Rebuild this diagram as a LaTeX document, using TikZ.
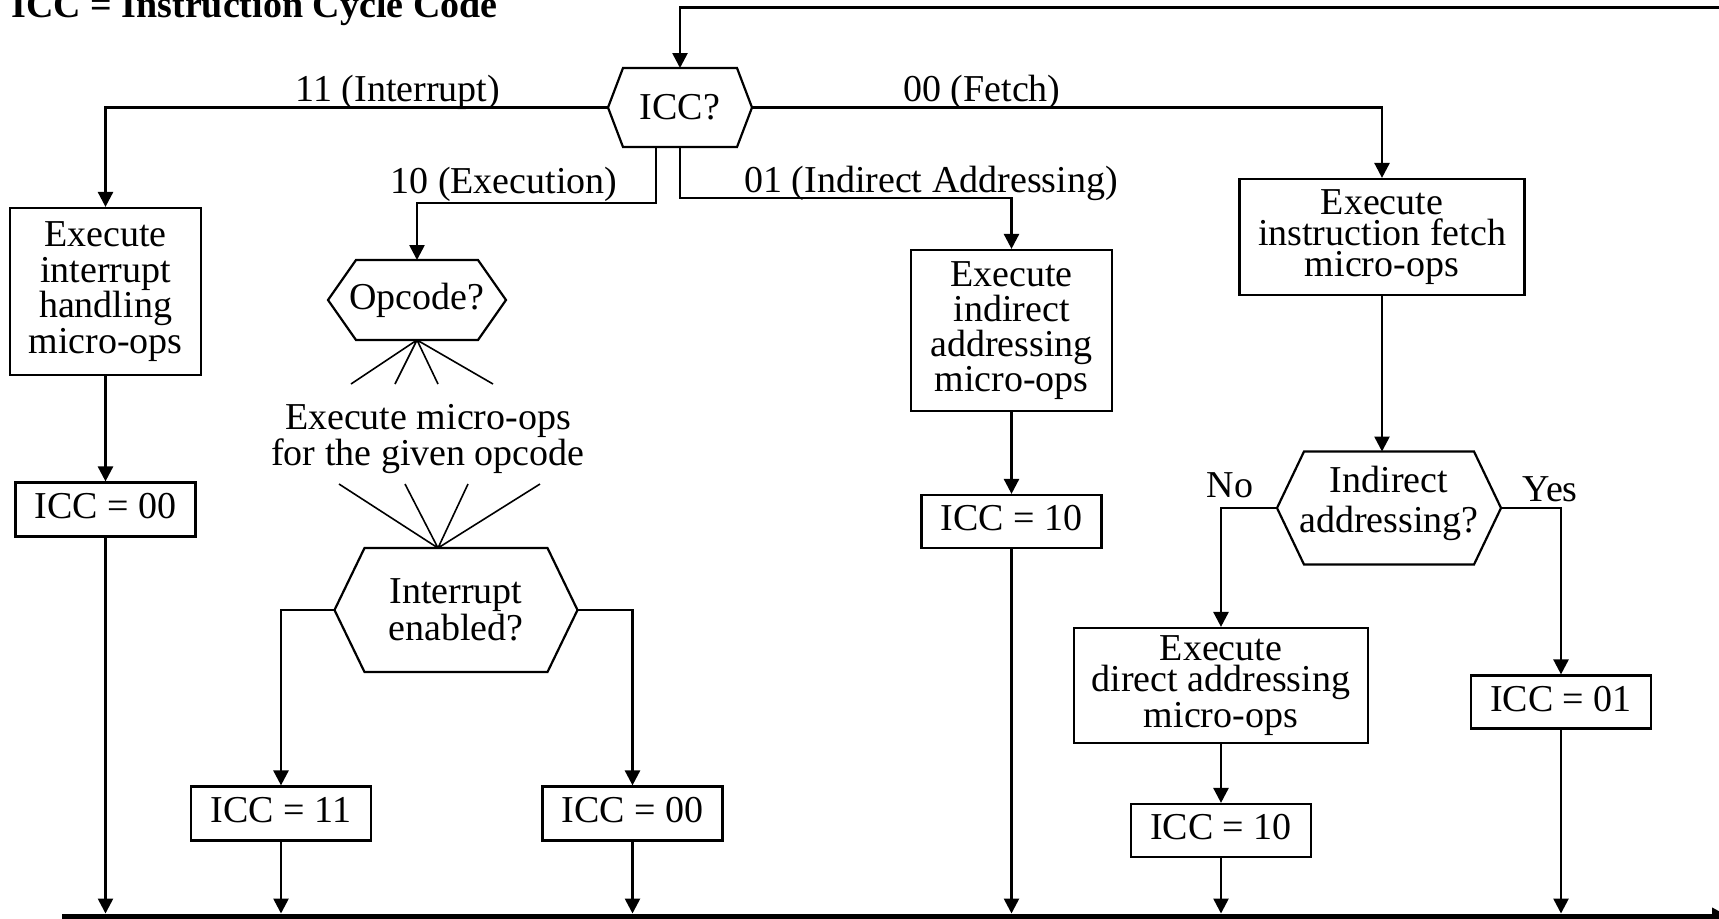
\documentclass[tikz,border=0pt]{standalone}
\usepackage{fontspec}
\setmainfont{Liberation Serif}
\usetikzlibrary{arrows.meta}

% decision hexagon: [text options]{name}{cx}{cy}{half top edge}{tip run}{half height}{text}
\newcommand\hexnode[8][]{%
  \node[hextext,#1] (#2) at (#3,#4) {#8};
  \draw[hexline] (#3-#5-#6,#4) coordinate (#2-w)
    -- (#3-#5,#4-#7) -- (#3+#5,#4-#7) -- (#3+#5+#6,#4) coordinate (#2-e)
    -- (#3+#5,#4+#7) -- (#3-#5,#4+#7) -- cycle;
  \coordinate (#2-n) at (#3,#4-#7);
  \coordinate (#2-s) at (#3,#4+#7);
}

\begin{document}
\begin{tikzpicture}[x=0.5pt, y=-0.5pt,
  lead/.style={font=\fontsize{19}{#1}\selectfont},
  lead/.default=22pt,
  box/.style={draw, line width=1.1pt, align=center, inner sep=0pt},
  iccbox/.style={box, lead, minimum width=90pt, minimum height=27pt, text depth=3.5pt},
  hextext/.style={align=center, inner sep=0pt, lead},
  hexline/.style={line width=1.1pt, line join=miter},
  lbl/.style={inner sep=0pt, lead},
  conn/.style={line width=1.3pt, -{Triangle[length=7.5pt,width=7.5pt]}},
  fan/.style={line width=0.8pt},
  bar/.style={line width=2.5pt, -{Triangle[length=8pt,width=8pt]}}
]
\clip (0,0) rectangle (1719,918);

% title
\node[lbl, anchor=base west, font=\fontsize{19}{22}\selectfont\bfseries] (title) at (11,17.5) {ICC = Instruction Cycle Code};

% decisions
\hexnode{icc}{680}{107.5}{57}{15}{39.5}{ICC?}
\hexnode{op}{417}{300}{61}{28}{40}{Opcode?}
\hexnode[lead=18.5pt]{ie}{456}{610}{91.5}{30}{62}{Interrupt\\enabled?}
\hexnode[lead=20pt, yshift=2.5pt]{ia}{1389}{508}{85}{27}{56.5}{Indirect\\addressing?}

% action boxes
\node[box, lead=17.7pt, minimum width=95.5pt, minimum height=83.5pt] (intr) at (105.5,291.5) {Execute\\interrupt\\handling\\micro-ops};
\node[box, lead=17.5pt, minimum width=100.5pt, minimum height=80.5pt] (indb) at (1011.5,330.5) {Execute\\indirect\\addressing\\micro-ops};
\node[box, lead=15.4pt, minimum width=142.5pt, minimum height=58pt] (fetchb) at (1382,237) {Execute\\instruction fetch\\micro-ops};
\node[box, lead=15.5pt, minimum width=147pt, minimum height=57.5pt] (direct) at (1221,685.5) {Execute\\direct addressing\\micro-ops};
\node[lbl, align=center, lead=17pt] (exops) at (428,439) {Execute micro-ops\\for the given opcode};

% ICC assignments
\node[iccbox] (c1) at (105.5,509.5) {ICC = 00};
\node[iccbox] (c2) at (281,813.5) {ICC = 11};
\node[iccbox] (c3) at (632.5,813.5) {ICC = 00};
\node[iccbox, minimum height=26.5pt] (c4) at (1011.5,521.5) {ICC = 10};
\node[iccbox, minimum height=26.5pt] (c5) at (1221,830.5) {ICC = 10};
\node[iccbox, minimum height=26.5pt] (c6) at (1561,702) {ICC = 01};

% branch labels
\node[lbl, anchor=base] (l11) at (398,101) {11 (Interrupt)};
\node[lbl, anchor=base] (l00) at (982,101) {00 (Fetch)};
\node[lbl, anchor=base] (l10) at (504,193) {10 (Execution)};
\node[lbl, anchor=base] (l01) at (931,192) {01 (Indirect Addressing)};
\node[lbl, anchor=base] (lno) at (1230,497) {No};
\node[lbl, anchor=base] (lyes) at (1550,501) {Yes};

% loop ends and bus
\coordinate (loopin) at (1730,7.7);
\coordinate (barW) at (62,916);
\coordinate (loopout) at (1728,916);
\coordinate (bartop) at (62,913.5);

% top-level dispatch
\draw[conn] (loopin) -| (icc-n);
\draw[conn] (icc-w) -| (intr.north);
\draw[conn] (icc-e) -| (fetchb.north);
\draw[conn] ([xshift=-12pt]icc-s) -- ++(0,56) -| (op-n);
\draw[conn] (icc-s) -- ++(0,51) -| (indb.north);

% opcode fan-out / fan-in
\draw[fan] (op-s) -- ++(-66,44) (op-s) -- ++(-22,44) (op-s) -- ++(21,44) (op-s) -- ++(76,44);
\draw[fan] ([xshift=-9pt]ie-n) -- ++(-99,-64) ([xshift=-9pt]ie-n) -- ++(-33,-64)
           ([xshift=-9pt]ie-n) -- ++(30,-64) ([xshift=-9pt]ie-n) -- ++(102,-64);

% interrupt column
\draw[conn] (intr.south) -- (c1.north);
\draw[conn] (c1.south) -- (c1.south |- bartop);

% execute column
\draw[conn] (ie-w) -| (c2.north);
\draw[conn] (ie-e) -| (c3.north);
\draw[conn] (c2.south) -- (c2.south |- bartop);
\draw[conn] (c3.south) -- (c3.south |- bartop);

% indirect column
\draw[conn] (indb.south) -- (c4.north);
\draw[conn] (c4.south) -- (c4.south |- bartop);

% fetch column
\draw[conn] (fetchb.south) -- (fetchb.south |- ia-n);
\draw[conn] (ia-w) -| (direct.north);
\draw[conn] (direct.south) -- (c5.north);
\draw[conn] (c5.south) -- (c5.south |- bartop);
\draw[conn] (ia-e) -| (c6.north);
\draw[conn] (c6.south) -- (c6.south |- bartop);

% common return bus
\draw[bar] (barW) -- (loopout);
\end{tikzpicture}
\end{document}
